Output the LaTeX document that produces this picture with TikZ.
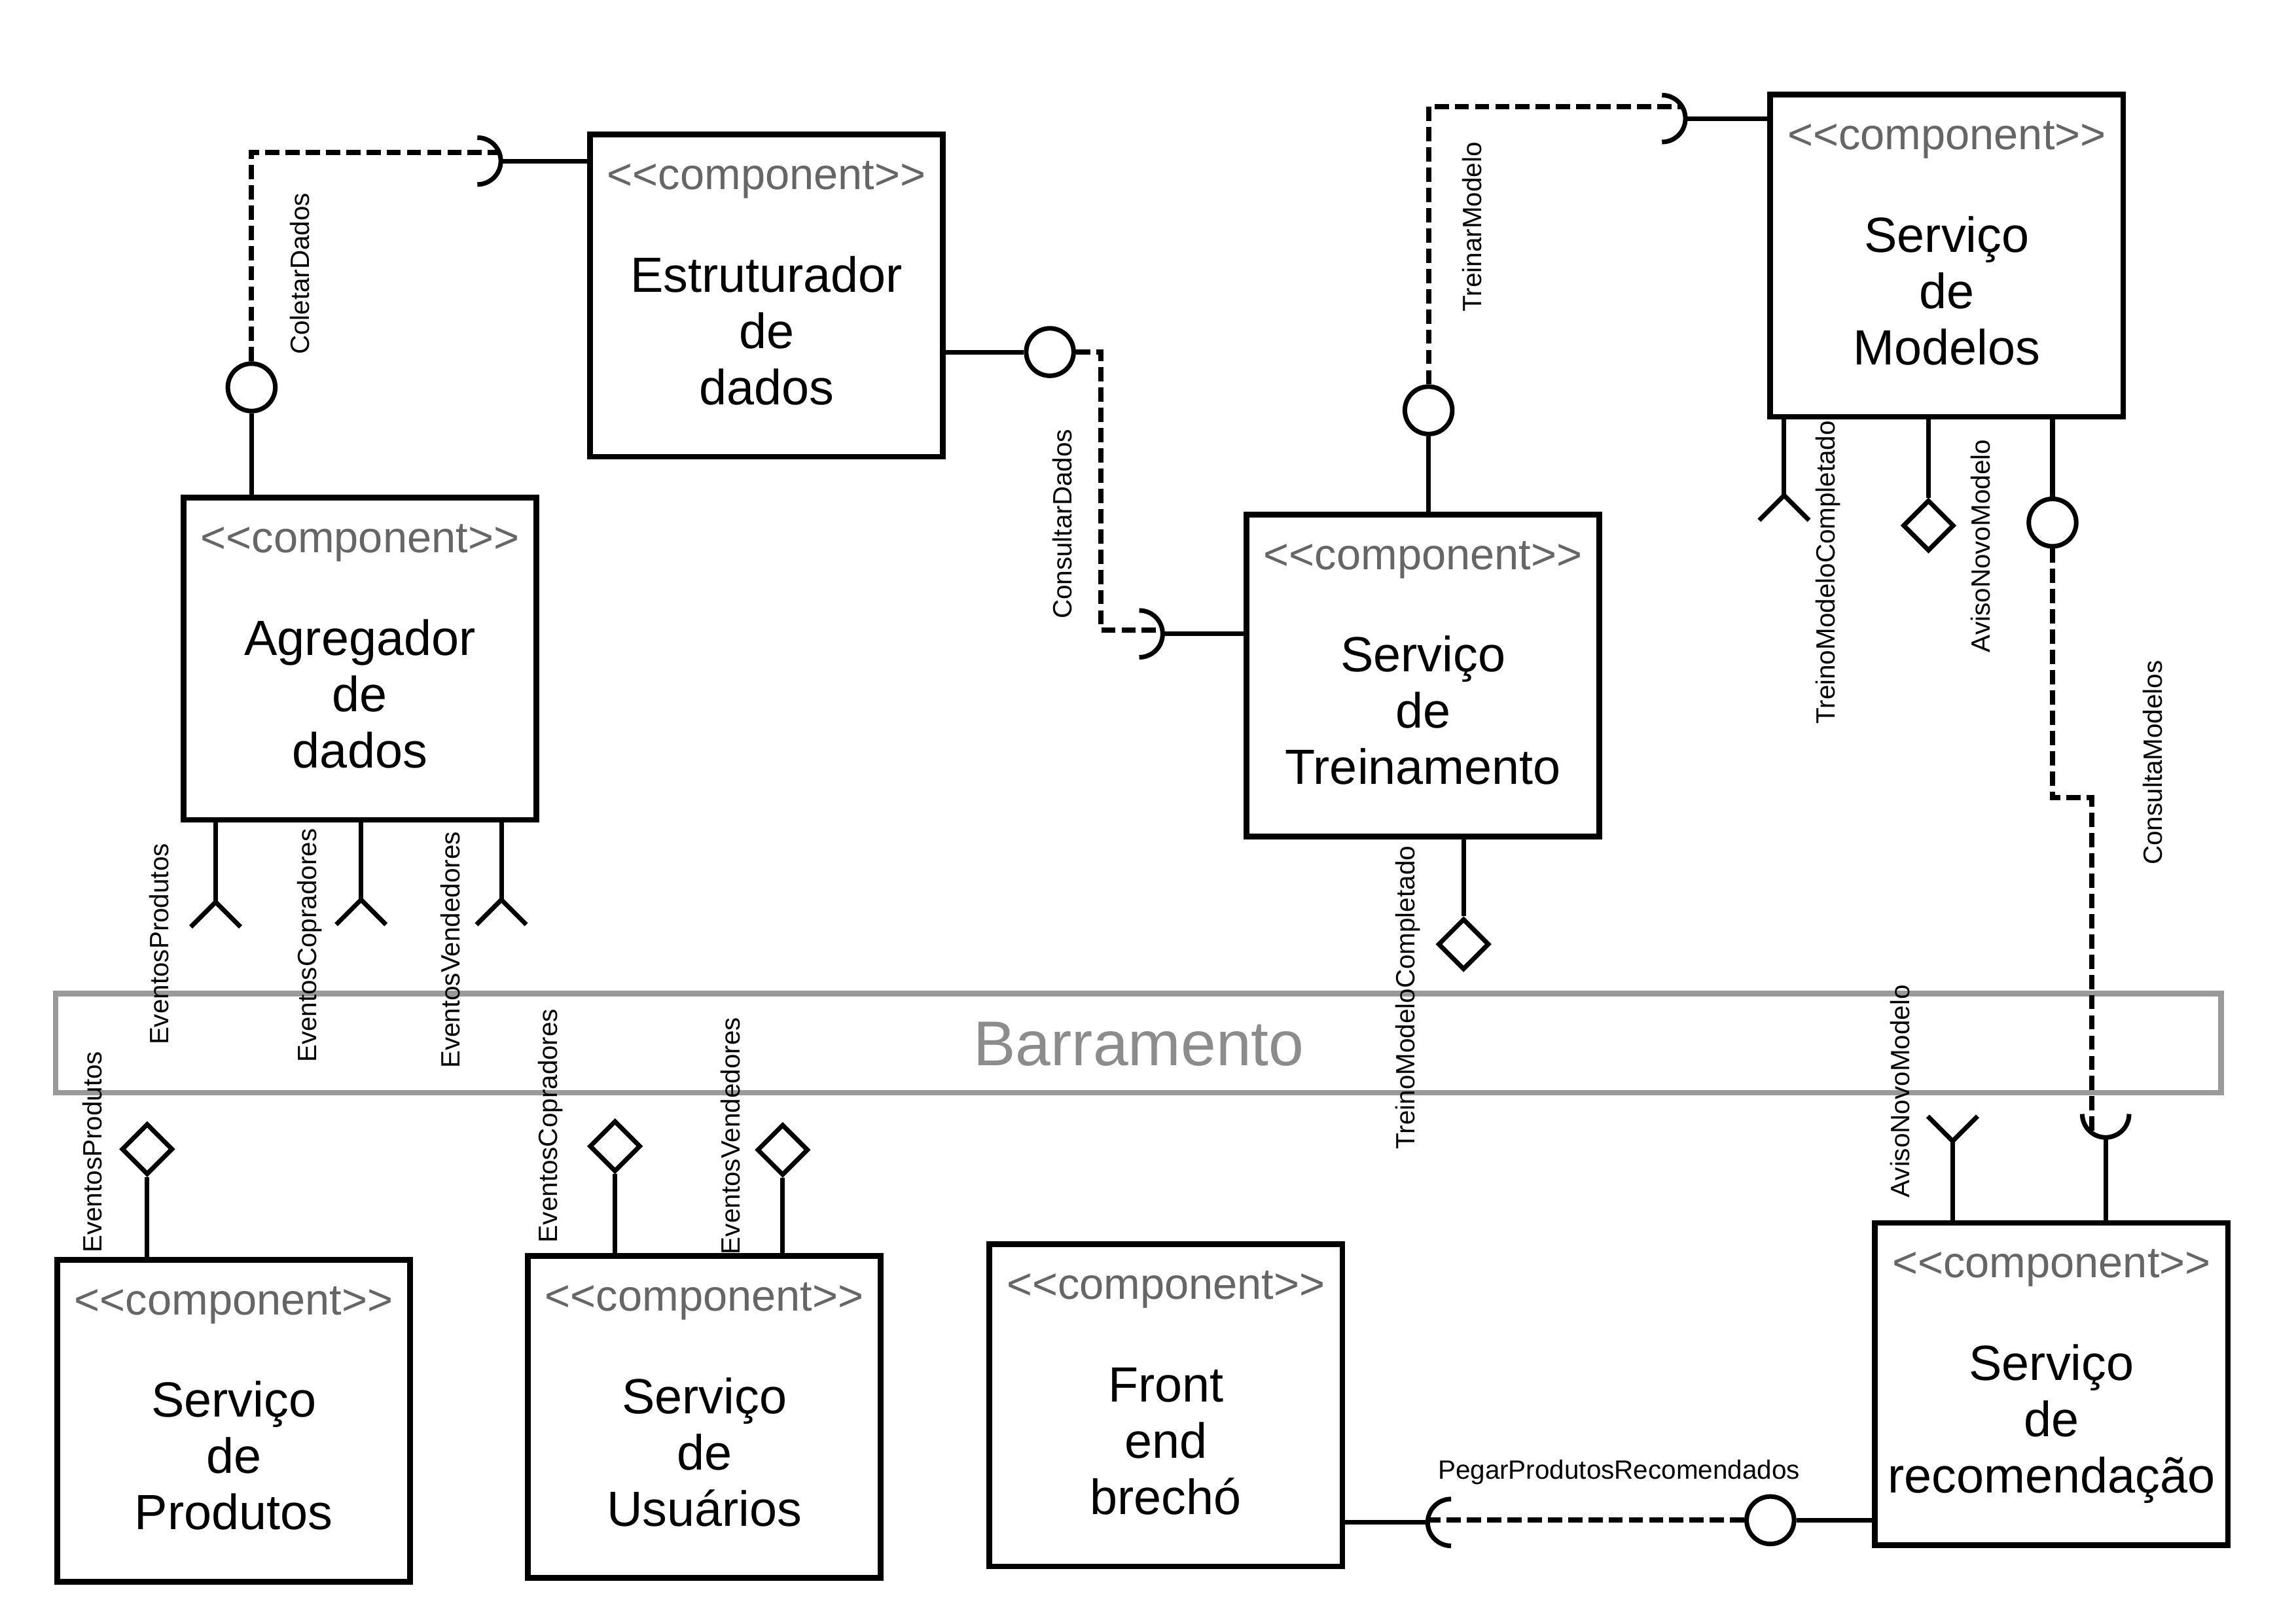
\documentclass[tikz,border=0pt]{standalone}
\usepackage{fontspec}
\setmainfont{Liberation Sans}
\usetikzlibrary{shapes.geometric,calc}
\definecolor{stgray}{HTML}{666666}
\definecolor{busgray}{HTML}{999999}
\definecolor{bustext}{HTML}{8C8C8C}
\newcommand\stereotxt{\textless\kern0pt\textless component\textgreater\kern0pt\textgreater}
\newcommand\compo[6]{%
  \node[compbox] (#1) at (#2,#3+110) {};
  \node[stereo] (#1-st) at (#2,#3+37.5) {\stereotxt};
  \node[cname] (#1-l1) at (#2,#3+107.5) {#4};
  \node[cname] (#1-l2) at (#2,#3+146) {#5};
  \node[cname] (#1-l3) at (#2,#3+184.5) {#6};
}
\begin{document}
\begin{tikzpicture}[x=0.022372cm,y=-0.022372cm,
  compbox/.style={draw,line width=2.5pt,minimum width=5.392cm,minimum height=4.922cm,inner sep=0pt},
  stereo/.style={font=\fontsize{19}{22}\selectfont,text=stgray,inner sep=0pt,anchor=base},
  cname/.style={font=\fontsize{21.5}{24.4}\selectfont,inner sep=0pt,anchor=base},
  lbl/.style={font=\fontsize{11.5}{13}\selectfont,inner sep=0pt,anchor=base},
  vlbl/.style={lbl,rotate=90},
  conn/.style={line width=2pt},
  dconn/.style={line width=2.3pt,dash pattern=on 6.2pt off 2.6pt},
  lolli/.style={circle,draw,line width=2pt,minimum size=0.725cm,inner sep=0pt,fill=white},
  evt/.style={diamond,draw,line width=2pt,minimum width=0.783cm,minimum height=0.783cm,inner sep=0pt,fill=white}]
\useasboundingbox (0,0) rectangle (1568,1109.4);
\fill[white] (0,0) rectangle (1568,1109.4);

% bus
\node[draw=busgray,line width=2.4pt,minimum width=33.08cm,minimum height=1.517cm,inner sep=0pt] (bus) at (777.35,712.6) {};
\node[font=\fontsize{27.5}{30}\selectfont,text=bustext,inner sep=0pt,anchor=base] (bus-t) at (777.7,727.8) {Barramento};

% components
\compo{est}{523.5}{92}{Estruturador}{de}{dados}
\compo{agr}{245.8}{340}{Agregador}{de}{dados}
\compo{trn}{971.8}{351.4}{Serviço}{de}{Treinamento}
\compo{mod}{1329.5}{64.7}{Serviço}{de}{Modelos}
\compo{prd}{159.6}{860.5}{Serviço}{de}{Produtos}
\compo{usr}{481}{858}{Serviço}{de}{Usuários}
\compo{fro}{796.2}{850}{Front}{end}{brechó}
\compo{rec}{1401}{835.4}{Serviço}{de}{recomendação}

% ColetarDados
\node[lolli] (cdC) at (171.8,264.6) {};
\draw[conn] (cdC.south) -- (cdC.south |- agr.north);
\coordinate (cdS) at (326,110);
\coordinate (cdE) at (340.8,104);
\draw[conn] ($(cdS)+(0,-16)$) arc[start angle=90,end angle=-90,radius=0.358cm];
\draw[dconn] (cdC.north) |- (cdE);
\draw[conn] ($(cdS)+(16,0)$) -- (est.west |- cdS);
\node[vlbl] (cdL) at (211,187) {ColetarDados};

% ConsultarDados
\node[lolli] (cqC) at (717,240.5) {};
\draw[conn] (est.east |- cqC) -- (cqC.west);
\coordinate (cqS) at (778,433);
\coordinate (cqE) at (793.8,430.6);
\coordinate (cqK) at (752,240.5);
\draw[conn] ($(cqS)+(0,-16)$) arc[start angle=90,end angle=-90,radius=0.358cm];
\draw[dconn] (cqC.east) -- (cqK) |- (cqE);
\draw[conn] ($(cqS)+(16,0)$) -- (trn.west |- cqS);
\node[vlbl] (cqL) at (732,358) {ConsultarDados};

% TreinarModelo
\node[lolli] (tmC) at (975.6,280.3) {};
\draw[conn] (tmC.south) -- (tmC.south |- trn.north);
\coordinate (tmS) at (1135,81);
\coordinate (tmE) at (1148.9,73);
\draw[conn] ($(tmS)+(0,-16)$) arc[start angle=90,end angle=-90,radius=0.358cm];
\draw[dconn] (tmC.north) |- (tmE);
\draw[conn] ($(tmS)+(16,0)$) -- (mod.west |- tmS);
\node[vlbl] (tmL) at (1011.5,155) {TreinarModelo};

% ConsultaModelos
\node[lolli] (cmC) at (1401.7,357) {};
\draw[conn] (cmC.north) -- (cmC.north |- mod.south);
\coordinate (cmS) at (1438,761);
\coordinate (cmE) at (1428.6,773.9);
\coordinate (cmK) at (1401.7,545);
\draw[conn] ($(cmS)+(-16,0)$) arc[start angle=180,end angle=360,radius=0.358cm];
\draw[dconn] (cmC.south) -- (cmK) -| (cmE);
\draw[conn] ($(cmS)+(0,16)$) -- (rec.north -| cmS);
\node[vlbl] (cmL) at (1476.5,521) {ConsultaModelos};

% PegarProdutosRecomendados
\node[lolli] (ppC) at (1209,1038.5) {};
\draw[conn] (ppC.east) -- (rec.west |- ppC);
\coordinate (ppS) at (991,1040);
\coordinate (ppE) at (975.1,1038.5);
\draw[conn] ($(ppS)+(0,-16)$) arc[start angle=90,end angle=270,radius=0.358cm];
\draw[dconn] (ppC.west) -- (ppE);
\draw[conn] ($(ppS)+(-16,0)$) -- (fro.east |- ppS);
\node[lbl] (ppL) at (1105.6,1010.6) {PegarProdutosRecomendados};

% forks (required events)
\coordinate (fa1) at (147.3,616.2);
\coordinate (fa2) at (246.6,614.6);
\coordinate (fa3) at (342.4,614.6);
\coordinate (fm) at (1218.4,338.4);
\coordinate (fr) at (1333.5,779.5);
\foreach \f in {fa1,fa2,fa3}{
  \draw[conn] (\f |- agr.south) -- (\f);
  \draw[conn] ($(\f)+(-17,17)$) -- (\f) -- ($(\f)+(17,17)$);
}
\draw[conn] (fm |- mod.south) -- (fm);
\draw[conn] ($(fm)+(-17,17)$) -- (fm) -- ($(fm)+(17,17)$);
\draw[conn] (fr |- rec.north) -- (fr);
\draw[conn] ($(fr)+(-17,-17)$) -- (fr) -- ($(fr)+(17,-17)$);

% diamonds (provided events)
\node[evt] (dT) at (999.5,645) {};
\draw[conn] (dT.north) -- (dT.north |- trn.south);
\node[evt] (dM) at (1317,359) {};
\draw[conn] (dM.north) -- (dM.north |- mod.south);
\node[evt] (dP) at (100.5,785) {};
\draw[conn] (dP.south) -- (dP.south |- prd.north);
\node[evt] (dU1) at (420,783) {};
\draw[conn] (dU1.south) -- (dU1.south |- usr.north);
\node[evt] (dU2) at (534.5,785.5) {};
\draw[conn] (dU2.south) -- (dU2.south |- usr.north);

% event labels
\node[vlbl] (lTM) at (1253,391) {TreinoModeloCompletado};
\node[vlbl] (lAM) at (1359,373) {AvisoNovoModelo};
\node[vlbl] (lTT) at (966.3,681.5) {TreinoModeloCompletado};
\node[vlbl] (lAR) at (1304,745.5) {AvisoNovoModelo};
\node[vlbl] (lA1) at (115.3,645) {EventosProdutos};
\node[vlbl] (lA2) at (216.3,646) {EventosCopradores};
\node[vlbl] (lA3) at (314,649) {EventosVendedores};
\node[vlbl] (lP1) at (69.5,787) {EventosProdutos};
\node[vlbl] (lU1) at (380.5,769) {EventosCopradores};
\node[vlbl] (lU2) at (505.5,776) {EventosVendedores};
\end{tikzpicture}
\end{document}
